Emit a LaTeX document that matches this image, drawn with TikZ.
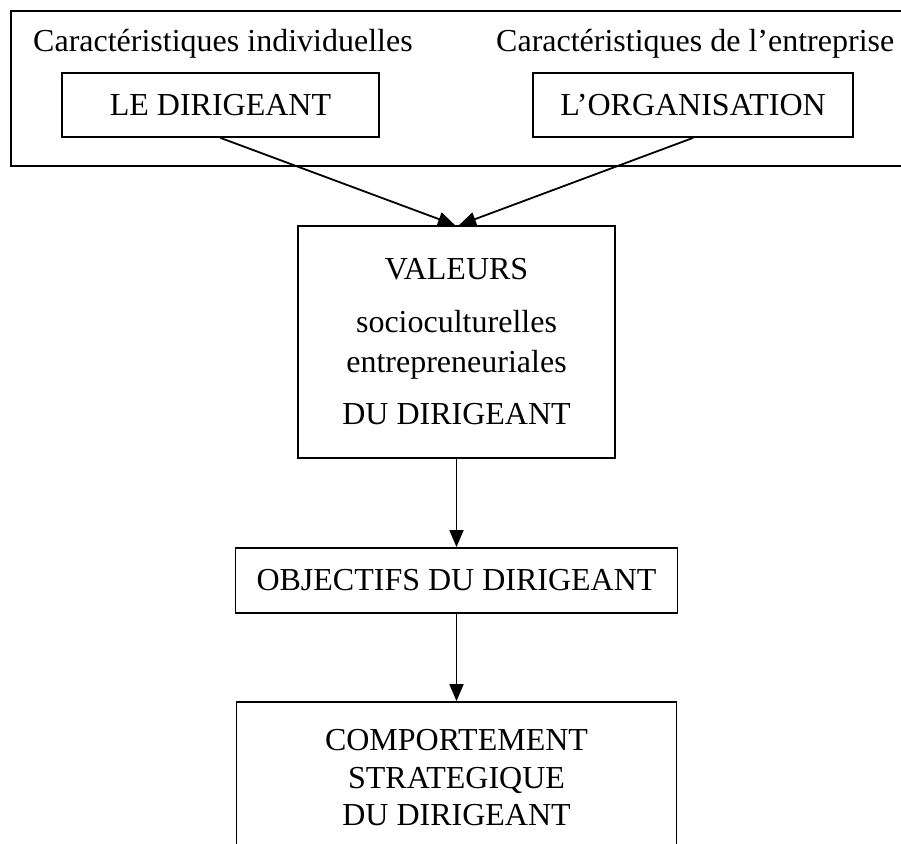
\documentclass[tikz,border=0pt]{standalone}
\usepackage{fontspec}
\setmainfont{Liberation Serif}
\usetikzlibrary{arrows.meta}
\begin{document}
\begin{tikzpicture}[x=1pt,y=-1pt,
  box/.style={draw,line width=1.8pt,inner sep=0pt,align=center,font=\fontsize{32}{40}\selectfont},
  lbl/.style={inner sep=0pt,font=\fontsize{32}{40}\selectfont},
  arr/.style={line width=1.8pt,-{Triangle[length=17pt,width=14pt]}}]
\useasboundingbox (0,0) rectangle (901,843);
\clip (0,0) rectangle (901,843);
\fill[white] (0,0) rectangle (901,843);
\node[box,minimum width=930,minimum height=155,anchor=north west] (grp) at (10,10) {};
\node[lbl,anchor=base west] (ci) at (33,52) {Caractéristiques individuelles};
\node[lbl,anchor=base west] (ce) at (496,52) {Caractéristiques de l’entreprise};
\node[box,minimum width=317,minimum height=64] (dir) at (220.5,105) {LE DIRIGEANT};
\node[box,minimum width=320,minimum height=64] (org) at (693,105) {L’ORGANISATION};
\node[box,minimum width=317,minimum height=232] (val) at (456.5,342)
  {VALEURS\\[13pt] socioculturelles\\ entrepreneuriales\\[12pt] DU DIRIGEANT};
\node[box,minimum width=442,minimum height=65] (obj) at (456.5,580.5) {OBJECTIFS DU DIRIGEANT};
\node[box,minimum width=440,minimum height=152,font=\fontsize{32}{37.5}\selectfont] (comp) at (456.5,778)
  {COMPORTEMENT\\ STRATEGIQUE\\ DU DIRIGEANT};
\draw[arr] (dir.south) -- ([xshift=-1.5pt]val.north);
\draw[arr] (org.south) -- ([xshift=2.5pt]val.north);
\draw[arr] (val.south) -- (obj.north);
\draw[arr] (obj.south) -- (comp.north);
\end{tikzpicture}
\end{document}
